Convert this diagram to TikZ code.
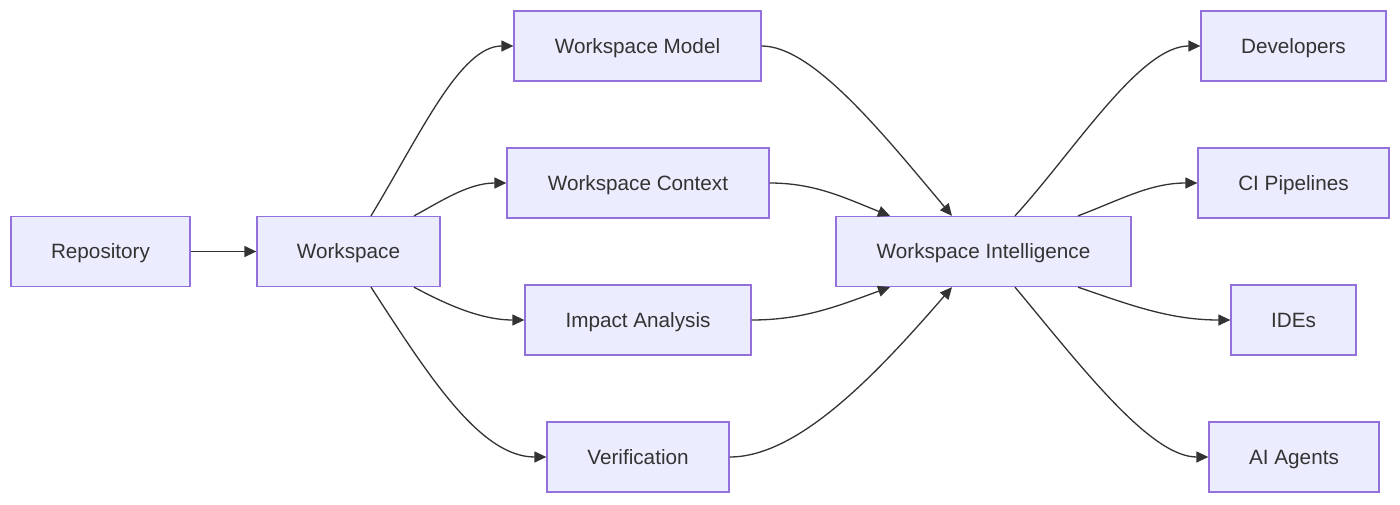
\documentclass[tikz,border=0pt]{standalone}
\usepackage{fontspec}
\setmainfont{Liberation Sans}
\usetikzlibrary{arrows.meta}
\definecolor{boxfill}{HTML}{ECECFF}
\definecolor{boxline}{HTML}{9370DB}
\definecolor{ink}{HTML}{333333}
\begin{document}
\begin{tikzpicture}[x=1pt,y=-1pt,
  box/.style={draw=boxline,fill=boxfill,line width=1.3pt,minimum height=70pt,inner sep=0pt,text height=14.8pt,text depth=0pt,text=ink,font=\fontsize{20.7}{24}\selectfont},
  conn/.style={draw=ink,line width=1.3pt,-{Triangle[length=12pt,width=11pt]}}]
\useasboundingbox (0,0) rectangle (1400,504);
\node[box,minimum width=179pt] (repo) at (100.5,251.5) {Repository};
\node[box,minimum width=183pt] (ws) at (348.5,251.5) {Workspace};
\node[box,minimum width=247pt] (model) at (637.5,46) {Workspace Model};
\node[box,minimum width=262pt] (ctx) at (638,183) {Workspace Context};
\node[box,minimum width=226pt] (impact) at (638,320) {Impact Analysis};
\node[box,minimum width=182pt] (verif) at (638,457) {Verification};
\node[box,minimum width=295pt] (wi) at (983.5,251.5) {Workspace Intelligence};
\node[box,minimum width=185pt] (dev) at (1293.5,46) {Developers};
\node[box,minimum width=191pt] (ci) at (1293.5,183) {CI Pipelines};
\node[box,minimum width=125pt] (ide) at (1293.5,320) {IDEs};
\node[box,minimum width=170pt] (ai) at (1294,457) {AI Agents};

\draw[conn] (repo.east) -- (ws.west);

\draw[conn] ([xshift=22.5pt]ws.north) .. controls (420,135) and (460,46) .. (model.west);
\draw[conn] ([xshift=65.5pt]ws.north) .. controls (440,202) and (468,183) .. (ctx.west);
\draw[conn] ([xshift=65.5pt]ws.south) .. controls (440,301) and (478,320) .. (impact.west);
\draw[conn] ([xshift=22.5pt]ws.south) .. controls (428,375) and (480,457) .. (verif.west);

\draw[conn] (model.east) .. controls (812,46) and (880,130) .. ([xshift=-31.5pt]wi.north);
\draw[conn] (ctx.east) .. controls (815,183) and (845,198) .. ([xshift=-93.5pt]wi.north);
\draw[conn] (impact.east) .. controls (805,320) and (840,305) .. ([xshift=-93.5pt]wi.south);
\draw[conn] (verif.east) .. controls (800,457) and (880,370) .. ([xshift=-31.5pt]wi.south);

\draw[conn] ([xshift=31.5pt]wi.north) .. controls (1075,150) and (1140,46) .. (dev.west);
\draw[conn] ([xshift=94.5pt]wi.north) .. controls (1120,200) and (1150,183) .. (ci.west);
\draw[conn] ([xshift=94.5pt]wi.south) .. controls (1130,305) and (1170,320) .. (ide.west);
\draw[conn] ([xshift=31.5pt]wi.south) .. controls (1080,365) and (1150,457) .. (ai.west);
\end{tikzpicture}
\end{document}
